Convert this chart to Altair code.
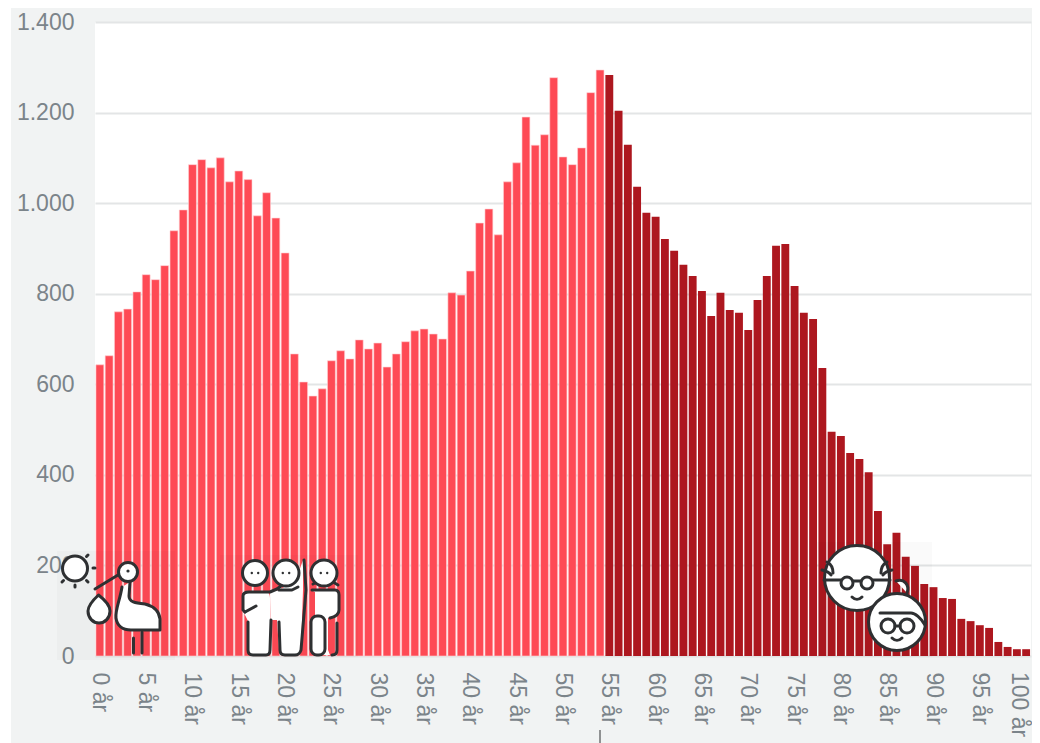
import urllib.parse
import altair as alt
import pandas as pd

ages = list(range(101))
values = [643, 663, 760, 766, 804, 842, 831, 862, 939, 985,
          1085, 1096, 1078, 1100, 1047, 1071, 1052, 972, 1023, 967,
          890, 667, 605, 574, 590, 652, 674, 656, 698, 678,
          691, 638, 667, 694, 718, 722, 711, 700, 802, 797,
          850, 956, 987, 930, 1047, 1089, 1190, 1128, 1151, 1277,
          1102, 1085, 1122, 1244, 1294, 1283, 1204, 1129, 1036, 979,
          970, 921, 895, 864, 839, 806, 751, 802, 764, 758,
          720, 786, 839, 906, 910, 817, 758, 744, 636, 495,
          486, 448, 435, 406, 320, 247, 272, 219, 199, 159,
          152, 128, 126, 82, 77, 68, 62, 31, 20, 15, 15]
labels = [f"{a} år" for a in ages]
tick_labels = [f"{a} år" for a in range(0, 100, 5)]
last_label = "100 år"
y_ticks = [0, 200, 400, 600, 800, 1000, 1200, 1400]
split_age = 55

LIGHT, DARK = "#fe4a55", "#ad171f"
LIGHT_EDGE, DARK_EDGE = "#ffd0d4", "#ad171f"
BG, TXT, GRID = "#f1f3f3", "#7b848a", "#e3e5e6"
INK = "#2e3032"

df = pd.DataFrame({
    "label": labels,
    "value": values,
    "fill": [LIGHT if a < split_age else DARK for a in ages],
    "edge": [LIGHT_EDGE if a < split_age else DARK_EDGE for a in ages],
    "ew": [0.6 if a < split_age else 0.0 for a in ages],
})


def svg(x0, y0, w, h, body):
    s = (f'<svg xmlns="http://www.w3.org/2000/svg" width="{w}" height="{h}" '
         f'viewBox="{x0} {y0} {w} {h}">'
         f'<rect x="{x0}" y="{y0}" width="{w}" height="{h}" fill="#000" fill-opacity="0.018"/>'
         f'<g fill="#fff" stroke="{INK}" stroke-width="3" stroke-linecap="round" stroke-linejoin="round">'
         f'{body}</g></svg>')
    return "data:image/svg+xml," + urllib.parse.quote(s)


def eyes(cx, cy, d=3.2):
    return (f'<circle cx="{cx-d}" cy="{cy}" r="1.2" fill="{INK}" stroke="none"/>'
            f'<circle cx="{cx+d}" cy="{cy}" r="1.2" fill="{INK}" stroke="none"/>')


stork = (
    '<circle cx="75" cy="568.5" r="12.5"/>'
    '<path d="M88 555l-1.5 1.5M95 568h-2M88 582l-1.5-1.5M75 587v-2M62 582l1.5-1.5" fill="none"/>'
    '<path d="M118 575L95 589" fill="none"/>'
    '<path d="M98.5 595C92 601 88 606 88 611C88 618 93 623 99 623C105 623 110 618 110 611C110 606 105 600 98.5 595Z"/>'
    '<path d="M122 587C120 600 115 610 116 618C117 626 123 630 131 630L160 630L160 619'
    'C159 610 153 606 145 604C135 603 129 602 129 596L130 582"/>'
    '<circle cx="128" cy="572" r="9.5"/>'
    '<circle cx="128" cy="571" r="1.6" fill="#2e3032" stroke="none"/>'
    '<path d="M133.500 638V653M142 632V653" fill="none"/>'
)
people = (
    '<path d="M249 592H266C269 592 270 595 270 598V614L272 650C272 654 270 655 267 655H253'
    'C250 655 248 654 248 650V621L243 611V596C243 593 246 592 249 592Z" stroke="none"/>'
    '<path d="M270 592L279 590L296 580L303 560V590L301 650C301 654 299 655 295 655H284'
    'C281 655 279 654 279 650L277 620H271Z" stroke="none"/>'
    '<path d="M248 622V650C248 654 250 655 253 655H266C269 655 270 653 270 650L271 620" fill="none"/>'
    '<path d="M245 612L243 610V596C243 593 246 592 249 592H270L277 589L290 579" fill="none"/>'
    '<path d="M245 612L256 606" fill="none"/>'
    '<path d="M279 622L280 650C280 654 282 655 285 655H295C299 655 300 653 301 650L306 590L304 560" fill="none"/>'
    '<path d="M279 590H292L298 587" fill="none"/>'
    '<circle cx="255" cy="573" r="12.500"/>' + eyes(255, 573) +
    '<circle cx="286" cy="573" r="13"/>' + eyes(286, 573) +
    '<path d="M311 590H335C338 590 339 592 339 595V610C339 615 335 617 330 618H328V650L330 655'
    'H315V592Z" stroke="none"/>'
    '<path d="M312 590H335C338 590 339 592 339 595V610C339 615 335 617 330 618" fill="none"/>'
    '<rect x="311" y="616" width="14" height="39" rx="6"/>'
    '<path d="M337 623V650C337 654 335 655 332 655" fill="none"/>'
    '<path d="M313 584L317 582M333 582L338 585" fill="none"/>'
    '<circle cx="324" cy="573" r="13"/>' + eyes(324, 573)
)
couple = (
    '<circle cx="857" cy="578" r="32.5"/>'
    '<path d="M827 562C831 564 833 568 833 573M822 570C826 571 829 572 831 575M887 562C883 564 881 568 881 573M892 570C888 571 885 572 883 575" fill="none"/>'
    '<path d="M824 580H841M873 580H890" fill="none"/>'
    '<circle cx="847" cy="583" r="6"/><circle cx="867" cy="583" r="6"/>'
    '<path d="M853 581H861" fill="none"/>'
    '<path d="M852 597C855 600 859 600 862 597" fill="none"/>'
    '<path d="M896 581C904 578 910 585 907 593" />'
    '<circle cx="897" cy="622" r="28.500"/>'
    '<path d="M880 613H911C915 613 921 618 925 625" fill="none"/>'
    '<circle cx="888" cy="626" r="7"/><circle cx="907" cy="626" r="7"/>'
    '<path d="M895 626H900" fill="none"/>'
    '<path d="M892 638C895 641 899 641 902 638" fill="none"/>'
)
icons = [
    (svg(57, 551, 118, 109, stork), 57 - 95, 551 - 22, 118, 109),
    (svg(220, 555, 138, 102, people), 220 - 95, 555 - 22, 138, 102),
    (svg(817, 542, 115, 115, couple), 817 - 95, 542 - 22, 115, 115),
]

x_axis = alt.Axis(values=tick_labels, labelAngle=90, labelAlign="left", labelBaseline="middle",
                  labelFontSize=23, labelFont="Liberation Sans", labelColor=TXT, labelPadding=16,
                  ticks=False, domain=False, grid=False, title=None, labelOverlap=False,
                  labelBound=False, labelFlush=False)
y_axis = alt.Axis(values=y_ticks, labelFontSize=23, labelFont="Liberation Sans", labelColor=TXT,
                  labelPadding=21, ticks=False, domain=False, gridColor=GRID, gridWidth=2,
                  title=None, labelExpr="replace(format(datum.value, ','), ',', '.')")

bars = alt.Chart(df).mark_bar().encode(
    x=alt.X("label:N", sort=labels, axis=x_axis,
            scale=alt.Scale(paddingInner=0.15, paddingOuter=0.1)),
    y=alt.Y("value:Q", axis=y_axis, scale=alt.Scale(domain=[0, 1400], nice=False)),
    fill=alt.Fill("fill:N", scale=None),
    stroke=alt.Stroke("edge:N", scale=None),
    strokeWidth=alt.StrokeWidth("ew:Q", scale=None),
)

one = pd.DataFrame({"k": [0]})
left_strip = alt.Chart(one).mark_rect(fill="#ffffff").encode(
    x=alt.value(-87), x2=alt.value(-84), y=alt.value(-14), y2=alt.value(721))
end_label = alt.Chart(pd.DataFrame({"t": [last_label]})).mark_text(
    angle=90, align="left", baseline="middle", font="Liberation Sans", fontSize=23, color=TXT
).encode(x=alt.value(924), y=alt.value(650), text="t:N")

layers = [bars, left_strip, end_label]
for url, px, py, w, h in icons:
    layers.append(
        alt.Chart(pd.DataFrame({"url": [url]}))
        .mark_image(align="left", baseline="top", width=w, height=h)
        .encode(x=alt.value(px), y=alt.value(py), url="url:N")
    )
layers.append(alt.Chart(one).mark_rule(color=INK, strokeWidth=1).encode(
    x=alt.value(505), y=alt.value(708), y2=alt.value(721)))

chart = alt.layer(*layers).properties(
    width=936, height=634, background=BG,
    padding={"left": 87, "top": 14, "right": 1, "bottom": 87},
    autosize=alt.AutoSizeParams(type="none", contains="content"),
).configure_view(fill="#ffffff", stroke=None)

chart.save("out.html", embed_options={"renderer": "svg", "actions": False})
